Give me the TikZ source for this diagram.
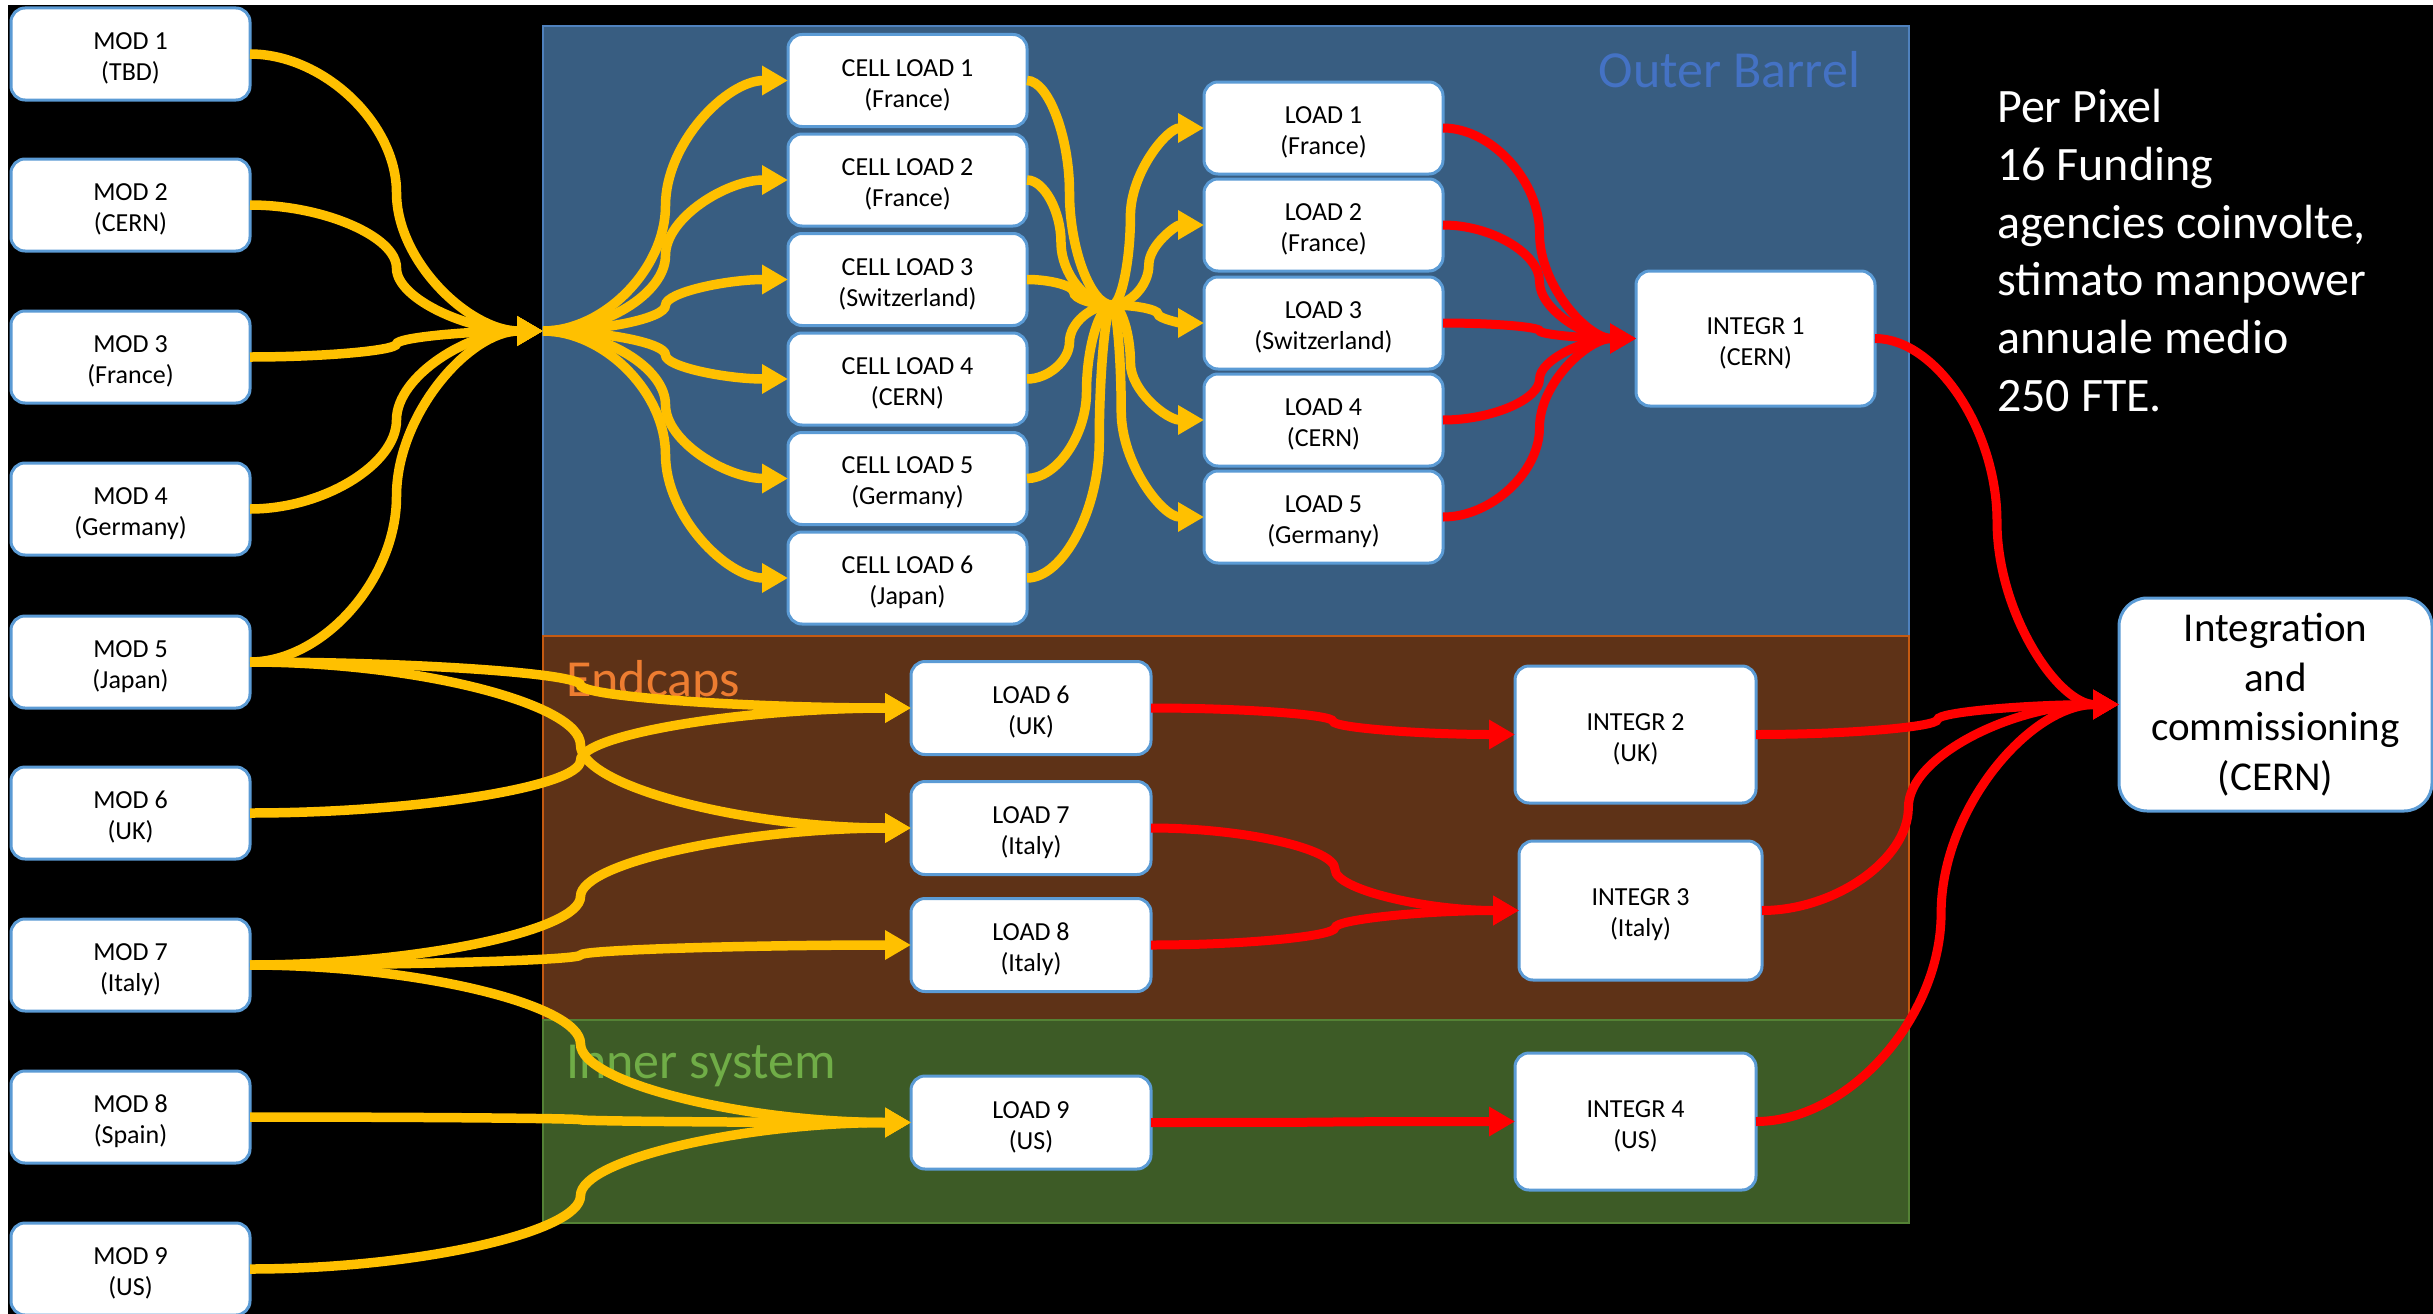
\documentclass[tikz,border=0pt]{standalone}
\usepackage{fontspec}
\setmainfont{Carlito}
\usetikzlibrary{calc,arrows.meta}
\definecolor{obfill}{RGB}{56,93,129}
\definecolor{obline}{RGB}{79,129,189}
\definecolor{ecfill}{RGB}{94,50,23}
\definecolor{ecline}{RGB}{197,90,17}
\definecolor{isfill}{RGB}{61,91,38}
\definecolor{isline}{RGB}{84,130,53}
\definecolor{oblabel}{RGB}{68,114,196}
\definecolor{eclabel}{RGB}{237,125,49}
\definecolor{islabel}{RGB}{112,173,71}
\definecolor{boxline}{RGB}{91,155,213}
\definecolor{yel}{RGB}{255,192,0}
\definecolor{redc}{RGB}{255,0,0}
\newcommand\cconn[4][0.5]{%
  \draw[#2] let \p1=(#3), \p2=(#4), \p3=({\x1+#1*(\x2-\x1)},{(\y1+\y2)/2}) in
  (\p1) .. controls ({(\x1+\x3)/2},\y1) and (\x3,{(\y1+\y3)/2}) .. (\p3)
  .. controls (\x3,{(\y3+\y2)/2}) and ({(\x3+\x2)/2},\y2) .. (\p2);}
\newcommand\twol[2]{\rule{0pt}{26pt}#1\\#2}
\tikzset{
  box/.style={draw=boxline, line width=3pt, fill=white, rounded corners=14pt,
    minimum width=239pt, minimum height=92pt, align=center, inner sep=0pt, outer sep=0pt,
    font=\fontsize{26}{31}\selectfont},
  region/.style={rectangle, line width=2.5pt, inner sep=0pt, outer sep=0pt, minimum width=1366pt},
  rlabel/.style={inner sep=0pt, font=\fontsize{52}{60}\selectfont},
  yline/.style={draw=yel, line width=9.5pt},
  yarrow/.style={yline, -{Triangle[length=26pt,width=28pt]}},
  rarrow/.style={draw=redc, line width=9pt, -{Triangle[length=26pt,width=28pt]}}
}
\begin{document}
\begin{tikzpicture}[x=1pt,y=-1pt]
\useasboundingbox (0,0) rectangle (2433,1314);
\fill[white] (0,0) rectangle (2433,1314);
\fill[black] (8,5) rectangle (2433,1314);
% regions
\node[region, draw=obline, fill=obfill, minimum height=610pt] (OB) at (1226,331) {};
\node[region, draw=ecline, fill=ecfill, minimum height=384pt] (EC) at (1226,828) {};
\node[region, draw=isline, fill=isfill, minimum height=203pt] (IS) at (1226,1121.5) {};
\node[rlabel, anchor=base east, text=oblabel] (obl) at (1860,87) {Outer Barrel};
\node[rlabel, anchor=base west, text=eclabel] (ecl) at (566,696) {Endcaps};
\node[rlabel, anchor=base west, text=islabel] (isl) at (566,1078) {Inner system};
% text block
\node[anchor=north west, text=white, align=left, inner sep=0pt,
      font=\fontsize{48}{57.8}\selectfont] (pp) at (1997,89)
  {Per Pixel\\16 Funding\\agencies coinvolte,\\stimato manpower\\annuale medio\\250 FTE.};
% modules
\node[box] (m1) at (130.5,54) {\twol{MOD 1}{(TBD)}};
\node[box] (m2) at (130.5,205) {\twol{MOD 2}{(CERN)}};
\node[box] (m3) at (130.5,357) {\twol{MOD 3}{(France)}};
\node[box] (m4) at (130.5,509) {\twol{MOD 4}{(Germany)}};
\node[box] (m5) at (130.5,662) {\twol{MOD 5}{(Japan)}};
\node[box] (m6) at (130.5,813) {\twol{MOD 6}{(UK)}};
\node[box] (m7) at (130.5,965) {\twol{MOD 7}{(Italy)}};
\node[box] (m8) at (130.5,1117) {\twol{MOD 8}{(Spain)}};
\node[box] (m9) at (130.5,1269) {\twol{MOD 9}{(US)}};
% cell loads
\node[box] (c1) at (907.5,80.5) {\twol{CELL LOAD 1}{(France)}};
\node[box] (c2) at (907.5,180) {\twol{CELL LOAD 2}{(France)}};
\node[box] (c3) at (907.5,279.5) {\twol{CELL LOAD 3}{(Switzerland)}};
\node[box] (c4) at (907.5,379) {\twol{CELL LOAD 4}{(CERN)}};
\node[box] (c5) at (907.5,478.5) {\twol{CELL LOAD 5}{(Germany)}};
\node[box] (c6) at (907.5,578) {\twol{CELL LOAD 6}{(Japan)}};
% loads
\node[box] (l1) at (1323.5,128) {\twol{LOAD 1}{(France)}};
\node[box] (l2) at (1323.5,225) {\twol{LOAD 2}{(France)}};
\node[box] (l3) at (1323.5,323) {\twol{LOAD 3}{(Switzerland)}};
\node[box] (l4) at (1323.5,420) {\twol{LOAD 4}{(CERN)}};
\node[box] (l5) at (1323.5,517) {\twol{LOAD 5}{(Germany)}};
\node[box, minimum width=240pt, minimum height=93pt] (l6) at (1031,708) {\twol{LOAD 6}{(UK)}};
\node[box, minimum width=240pt, minimum height=93pt] (l7) at (1031,828) {\twol{LOAD 7}{(Italy)}};
\node[box, minimum width=240pt, minimum height=93pt] (l8) at (1031,945) {\twol{LOAD 8}{(Italy)}};
\node[box, minimum width=240pt, minimum height=93pt] (l9) at (1031,1122.5) {\twol{LOAD 9}{(US)}};
% integration
\node[box, minimum height=135pt] (i1) at (1755.5,338.5) {\twol{INTEGR 1}{(CERN)}};
\node[box, minimum width=241pt, minimum height=137pt] (i2) at (1635.5,734.5) {\twol{INTEGR 2}{(UK)}};
\node[box, minimum width=243pt, minimum height=139pt] (i3) at (1640.5,910.5) {\twol{INTEGR 3}{(Italy)}};
\node[box, minimum width=241pt, minimum height=137pt] (i4) at (1635.5,1121.5) {\twol{INTEGR 4}{(US)}};
\node[box, minimum width=313pt, minimum height=213pt, rounded corners=28pt,
      font=\fontsize{41}{49.6}\selectfont] (ic) at (2275.5,704.5)
  {\rule{0pt}{29pt}Integration\\and\\commissioning\\(CERN)};
\coordinate (hub) at (1112,305);
% yellow: modules to outer barrel
\cconn{yarrow}{m1.east}{OB.west}
\cconn{yarrow}{m2.east}{OB.west}
\cconn{yarrow}{m3.east}{OB.west}
\cconn{yarrow}{m4.east}{OB.west}
\cconn{yarrow}{m5.east}{OB.west}
% outer barrel to cell loads
\cconn{yarrow}{OB.west}{c1.west}
\cconn{yarrow}{OB.west}{c2.west}
\cconn{yarrow}{OB.west}{c3.west}
\cconn{yarrow}{OB.west}{c4.west}
\cconn{yarrow}{OB.west}{c5.west}
\cconn{yarrow}{OB.west}{c6.west}
% cell loads to hub
\cconn[0.5]{yline}{c1.east}{hub}
\cconn[0.4]{yline}{c2.east}{hub}
\cconn[0.55]{yline}{c3.east}{hub}
\cconn[0.5]{yline}{c4.east}{hub}
\cconn[0.7]{yline}{c5.east}{hub}
\cconn[0.85]{yline}{c6.east}{hub}
% hub to loads
\cconn[0.2]{yarrow}{hub}{l1.west}
\cconn[0.4]{yarrow}{hub}{l2.west}
\cconn[0.5]{yarrow}{hub}{l3.west}
\cconn[0.2]{yarrow}{hub}{l4.west}
\cconn[0.1]{yarrow}{hub}{l5.west}
% modules to endcaps / inner
\cconn{yarrow}{m5.east}{l6.west}
\cconn{yarrow}{m5.east}{l7.west}
\cconn{yarrow}{m6.east}{l6.west}
\cconn{yarrow}{m7.east}{l7.west}
\cconn{yarrow}{m7.east}{l8.west}
\cconn{yarrow}{m7.east}{l9.west}
\cconn{yarrow}{m8.east}{l9.west}
\cconn{yarrow}{m9.east}{l9.west}
% red
\cconn{rarrow}{l1.east}{i1.west}
\cconn{rarrow}{l2.east}{i1.west}
\cconn{rarrow}{l3.east}{i1.west}
\cconn{rarrow}{l4.east}{i1.west}
\cconn{rarrow}{l5.east}{i1.west}
\cconn{rarrow}{i1.east}{ic.west}
\cconn{rarrow}{l6.east}{i2.west}
\cconn{rarrow}{l7.east}{i3.west}
\cconn{rarrow}{l8.east}{i3.west}
\cconn{rarrow}{l9.east}{i4.west}
\cconn{rarrow}{i2.east}{ic.west}
\cconn[0.41]{rarrow}{i3.east}{ic.west}
\cconn[0.51]{rarrow}{i4.east}{ic.west}
\end{tikzpicture}
\end{document}
